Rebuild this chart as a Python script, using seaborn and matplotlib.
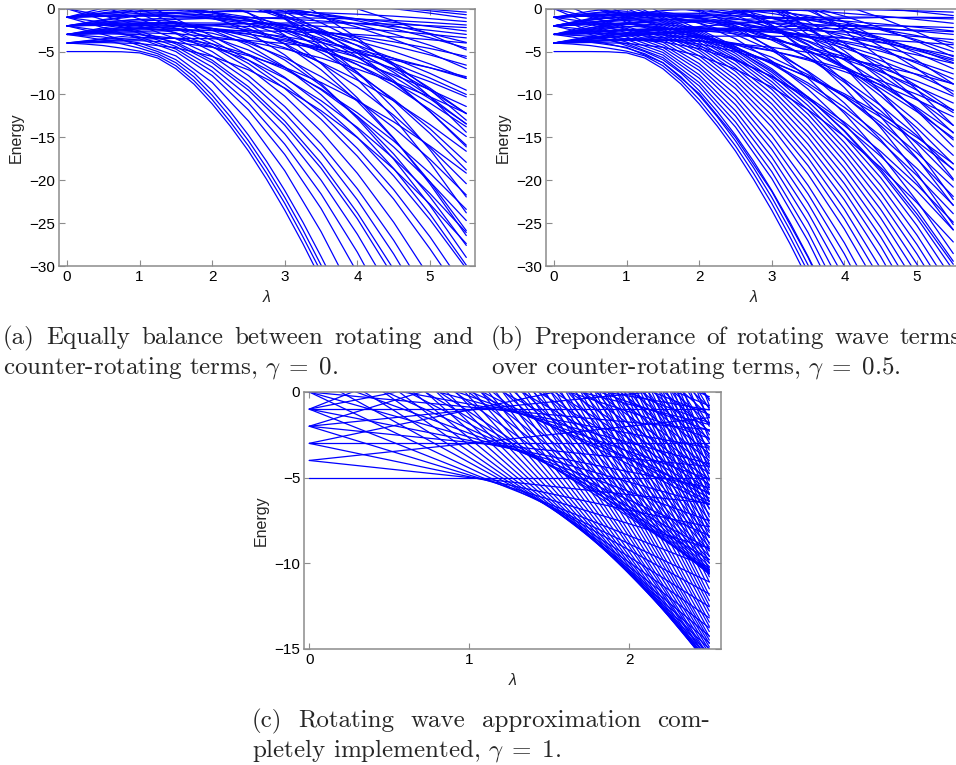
import numpy as np
import pandas as pd
import matplotlib.pyplot as plt
import seaborn as sns

sns.set_theme(style="white")
plt.rcParams["font.family"] = ["Liberation Sans", "DejaVu Sans"]
plt.rcParams["mathtext.fontset"] = "cm"

# lambda grids for panels (a) and (b)
lam_ab = [0, 0.5, 1.0, 1.5, 2.0, 2.5, 3.0, 3.5, 4.0, 4.5, 5.0, 5.5]
lam_fine = [0, 0.25, 0.5, 0.75, 1.0, 1.25, 1.5, 1.75, 2.0, 2.25, 2.5, 2.75, 3.0, 3.25, 3.5, 3.75]

# lowest levels, read on the fine grid (same in (a) and (b))
low_levels = [
    [-5, -5, -5, -5.02, -5.15, -5.75, -7.0, -8.8, -11.1, -13.7, -16.6, -19.9, -23.5, -27.4, -31.6],
    [-4, -4.12, -4.3, -4.6, -4.95, -5.5, -6.65, -8.4, -10.6, -13.2, -16.0, -19.2, -22.7, -26.6, -30.7],
    [-3, -3.3, -3.65, -4.1, -4.6, -5.25, -6.3, -7.95, -10.1, -12.6, -15.4, -18.55, -22.0, -25.8, -29.9, -34.2],
    [-2, -2.5, -3.0, -3.6, -4.3, -5.0, -5.95, -7.5, -9.55, -12.0, -14.75, -17.8, -21.2, -24.9, -28.9, -33.1],
]

# panel (a), gamma = 0 : energies along lam_ab (curves leaving the frame stop early)
a_steep = [
    [-3, -3.3, -4.0, -5.5, -8.6, -13.1, -18.9, -26.0, -34.2],
    [-1, -2.2, -3.5, -5.0, -7.8, -11.8, -17.0, -23.3, -30.8],
    [-2, -2.6, -3.3, -4.7, -7.3, -11.0, -15.8, -21.6, -28.4, -36.2],
    [0, -1.3, -2.9, -4.4, -6.8, -10.2, -14.6, -20.0, -26.3, -33.5],
    [-1, -1.6, -2.6, -4.1, -6.3, -9.5, -13.6, -18.6, -24.5, -31.3],
    [-4, -3.5, -3.0, -3.9, -6.0, -9.1, -13.1, -18.0, -23.8, -30.4],
    [0, -0.8, -2.0, -3.5, -5.5, -8.4, -12.2, -16.8, -22.3, -28.6, -35.7],
    [1, 0.2, -1.2, -2.9, -5.0, -7.8, -11.4, -15.8, -21.0, -27.0, -33.8],
    [-3, -2.4, -2.1, -2.8, -4.4, -6.9, -10.2, -14.3, -19.2, -24.9, -31.4],
    [2, 1.0, -0.6, -2.3, -4.1, -6.4, -9.3, -12.9, -17.2, -22.2, -28.0, -34.2],
    [3, 1.8, 0.0, -1.8, -3.7, -6.0, -8.8, -12.2, -16.3, -21.1, -26.6, -32.8],
    [4, 2.8, 0.8, -1.2, -3.2, -5.4, -8.0, -11.2, -15.0, -19.5, -24.6, -30.3],
    [-2, -1.52, -1.25, -1.51, -2.5, -4.26, -6.79, -10.04, -14.0, -18.64, -23.94, -29.9],
    [0, 0.39, 0.55, 0.19, -0.9, -2.76, -5.39, -8.74, -12.8, -17.54, -22.94, -29.0],
    [-3, -2.22, -1.65, -1.61, -2.3, -3.76, -5.99, -8.94, -12.6, -16.94, -21.94, -27.6],
    [2, 2.43, 2.65, 2.34, 1.3, -0.51, -3.09, -6.39, -10.4, -15.09, -20.44, -26.45],
    [-1, -0.24, 0.3, 0.32, -0.4, -1.89, -4.14, -7.12, -10.8, -15.16, -20.19, -25.88],
    [3, 3.58, 3.95, 3.79, 2.9, 1.24, -1.19, -4.34, -8.2, -12.74, -17.94, -23.8],
    [1, 1.93, 2.65, 2.84, 2.3, 0.99, -1.09, -3.89, -7.4, -11.59, -16.44, -21.95],
]
a_middle = [
    [-4, -3.95, -4.06, -4.55, -5.56, -7.13, -9.25, -11.89, -15.04, -18.68, -22.8, -27.39],
    [-3, -2.93, -3.01, -3.47, -4.46, -6.0, -8.1, -10.72, -13.84, -17.46, -21.55, -26.1],
    [-2, -1.89, -1.94, -2.36, -3.31, -4.82, -6.87, -9.45, -12.54, -16.12, -20.18, -24.7],
    [-4, -3.59, -3.34, -3.46, -4.11, -5.32, -7.07, -9.35, -12.14, -15.42, -19.18, -23.4],
    [-3, -2.53, -2.21, -2.28, -2.86, -4.0, -5.7, -7.92, -10.64, -13.86, -17.55, -21.72],
    [-1, -0.59, -0.34, -0.46, -1.11, -2.32, -4.07, -6.35, -9.14, -12.42, -16.18, -20.4],
    [1, 1.38, 1.59, 1.43, 0.75, -0.5, -2.29, -4.6, -7.43, -10.74, -14.54, -18.8],
    [-2, -1.27, -0.7, -0.51, -0.84, -1.73, -3.17, -5.13, -7.6, -10.56, -14.0, -17.91],
    [2, 2.53, 2.9, 2.89, 2.36, 1.27, -0.37, -2.53, -5.2, -8.36, -12.0, -16.11],
    [0, 0.73, 1.3, 1.49, 1.16, 0.27, -1.17, -3.13, -5.6, -8.56, -12.0, -15.91],
    [4, 4.5, 4.85, 4.81, 4.25, 3.14, 1.47, -0.72, -3.41, -6.6, -10.27, -14.4],
    [-1, 0.08, 1.01, 1.56, 1.58, 1.05, -0.04, -1.64, -3.76, -6.37, -9.45, -13.0],
    [-4, -3.81, -3.73, -3.93, -4.5, -5.48, -6.85, -8.6, -10.72, -13.19, -16.01, -19.17],
    [-2, -1.76, -1.63, -1.78, -2.3, -3.23, -4.55, -6.25, -8.32, -10.74, -13.51, -16.62],
    [-1, -0.56, -0.23, -0.18, -0.5, -1.23, -2.35, -3.85, -5.72, -7.94, -10.51, -13.42],
    [0, 0.22, 0.32, 0.15, -0.4, -1.36, -2.7, -4.43, -6.52, -8.97, -11.76, -14.9],
    [1, 1.365, 1.62, 1.6, 1.2, 0.4, -0.8, -2.38, -4.32, -6.62, -9.26, -12.25],
    [-3, -2.41, -1.93, -1.73, -1.9, -2.48, -3.45, -4.8, -6.52, -8.59, -11.01, -13.77],
    [2, 2.165, 2.22, 1.995, 1.4, 0.395, -0.9, -2.775, -4.92, -7.415, -10.26, -13.445],
    [-2, -1.36, -0.83, -0.58, -0.7, -1.23, -2.15, -3.45, -5.12, -7.14, -9.51, -12.22],
]
a_upper = [
    [-3, -2.87, -2.81, -2.92, -3.26, -3.85, -4.68, -5.75, -7.04, -8.55, -10.27, -12.2],
    [-2, -1.89, -1.85, -1.97, -2.33, -2.93, -3.79, -4.87, -6.18, -7.7, -9.45, -11.4],
    [-3, -2.7, -2.46, -2.39, -2.56, -2.97, -3.63, -4.52, -5.64, -6.97, -8.52, -10.28],
    [-1, -0.85, -0.77, -0.86, -1.19, -1.75, -2.57, -3.62, -4.89, -6.38, -8.09, -10.0],
    [0, 0.1, 0.14, 0.0, -0.37, -0.98, -1.84, -2.93, -4.26, -5.79, -7.54, -9.5],
    [-2, -1.59, -1.25, -1.07, -1.13, -1.43, -1.99, -2.77, -3.78, -5.0, -6.45, -8.1],
    [1, 1.24, 1.41, 1.41, 1.18, 0.7, -0.02, -0.98, -2.16, -3.56, -5.17, -6.99],
    [-1, -0.47, -0.01, 0.28, 0.34, 0.15, -0.28, -0.95, -1.84, -2.95, -4.27, -5.8],
    [3, 3.26, 3.45, 3.47, 3.25, 2.79, 2.08, 1.15, -0.02, -1.4, -3.0, -4.8],
    [-3, -2.79, -2.64, -2.55, -2.52, -2.56, -2.65, -2.8, -3.01, -3.28, -3.61, -4.0],
    [-2, -1.83, -1.72, -1.66, -1.67, -1.74, -1.87, -2.05, -2.3, -2.61, -2.98, -3.4],
    [-1, -0.88, -0.82, -0.83, -0.89, -1.01, -1.19, -1.43, -1.74, -2.1, -2.52, -3.0],
    [0, 0.06, 0.07, 0.01, -0.11, -0.28, -0.52, -0.82, -1.17, -1.59, -2.07, -2.6],
    [-3, -2.63, -2.32, -2.06, -1.87, -1.74, -1.67, -1.65, -1.7, -1.81, -1.98, -2.2],
    [-2, -1.69, -1.44, -1.25, -1.12, -1.06, -1.05, -1.1, -1.21, -1.38, -1.61, -1.9],
    [-1, -0.75, -0.55, -0.42, -0.34, -0.33, -0.37, -0.48, -0.64, -0.87, -1.16, -1.5],
    [2, 2.02, 1.98, 1.87, 1.71, 1.49, 1.21, 0.87, 0.46, 0.0, -0.52, -1.1],
    [1, 1.15, 1.23, 1.26, 1.22, 1.13, 0.97, 0.76, 0.48, 0.15, -0.25, -0.7],
    [0, 0.26, 0.47, 0.61, 0.69, 0.72, 0.68, 0.58, 0.43, 0.21, -0.07, -0.4],
    [-4, -3.75, -3.55, -3.45, -3.5, -3.7, -4.06, -4.56, -5.2, -5.98, -6.89, -7.93],
    [-1, -0.9, -0.85, -0.9, -1.1, -1.45, -1.96, -2.61, -3.4, -4.33, -5.39, -6.58],
    [0, 0.25, 0.45, 0.55, 0.5, 0.3, -0.06, -0.56, -1.2, -1.98, -2.89, -3.93],
    [-2, -1.95, -1.95, -2.05, -2.3, -2.7, -3.26, -3.96, -4.8, -5.78, -6.89, -8.13],
    [1, 1.1, 1.15, 1.1, 0.9, 0.55, 0.04, -0.61, -1.4, -2.33, -3.39, -4.58],
    [-3, -2.63, -2.3, -2.08, -2.0, -2.07, -2.31, -2.69, -3.2, -3.86, -4.64, -5.56],
]

# panel (b), gamma = 0.5
b_steep = [
    [-4, -3.9, -4.5, -6.3, -9.9, -15.0, -21.3, -29.0, -38.0],
    [-3, -3.2, -4.1, -5.7, -9.0, -13.8, -19.8, -27.1, -35.7],
    [-1, -2.6, -3.9, -5.4, -8.6, -13.2, -19.0, -26.1, -34.4],
    [-2, -2.5, -3.6, -5.1, -8.1, -12.5, -18.1, -24.9, -32.9],
    [0, -1.8, -3.3, -4.8, -7.7, -11.9, -17.3, -23.8, -31.4],
    [-3, -2.4, -3.0, -4.5, -7.2, -11.2, -16.4, -22.7, -30.0, -38.4],
    [-1, -1.6, -2.8, -4.2, -6.8, -10.6, -15.6, -21.6, -28.6, -36.7],
    [1, -0.8, -2.5, -3.9, -6.4, -10.0, -14.8, -20.6, -27.3, -35.0],
    [-2, -1.8, -2.3, -3.6, -5.9, -9.3, -13.8, -19.3, -25.7, -33.0],
    [0, -1.0, -2.1, -3.3, -5.5, -8.8, -13.1, -18.3, -24.5, -31.6],
    [-4, -3.2, -2.4, -3.0, -5.1, -8.3, -12.4, -17.4, -23.4, -30.3],
    [2, 0.4, -1.6, -2.8, -4.8, -7.8, -11.7, -16.6, -22.3, -28.9, -36.4],
    [-1, -0.8, -1.4, -2.6, -4.5, -7.3, -11.1, -15.8, -21.3, -27.7, -35.0],
    [-3, -2.2, -1.7, -2.4, -4.2, -6.9, -10.5, -15.0, -20.4, -26.6, -33.6],
    [3, 1.4, -0.8, -2.2, -3.9, -6.5, -9.9, -14.3, -19.5, -25.5, -32.3],
    [1, 0.3, -0.9, -2.0, -3.6, -6.1, -9.4, -13.6, -18.6, -24.4, -31.0],
    [-2, -1.2, -1.0, -1.8, -3.4, -5.8, -8.9, -12.9, -17.8, -23.4, -29.8, -36.9],
    [4, 2.4, 0.0, -1.6, -3.2, -5.5, -8.5, -12.3, -17.0, -22.4, -28.6, -35.5],
    [0, 0.1, -0.6, -1.4, -3.0, -5.2, -8.1, -11.8, -16.3, -21.5, -27.5, -34.2],
    [5, 3.3, 0.8, -1.2, -2.8, -4.9, -7.7, -11.3, -15.6, -20.6, -26.4, -33.0],
    [2, 1.2, 0.2, -1.0, -2.6, -4.7, -7.4, -10.8, -14.9, -19.7, -25.3, -31.7],
    [6, 4.2, 1.6, -0.6, -2.4, -4.4, -7.0, -10.3, -14.3, -19.0, -24.4, -30.5],
    [-3, -2.42, -2.05, -2.21, -3.1, -4.76, -7.19, -10.34, -14.2, -18.74, -23.94, -29.8],
    [-1, -0.57, -0.35, -0.66, -1.7, -3.51, -6.09, -9.39, -13.4, -18.09, -23.44, -29.45],
    [1, 1.33, 1.45, 1.04, -0.1, -2.01, -4.69, -8.09, -12.2, -16.99, -22.44, -28.55],
    [-2, -1.14, -0.5, -0.39, -1.0, -2.385, -4.54, -7.415, -11.0, -15.265, -20.19, -25.775],
    [3, 3.455, 3.7, 3.415, 2.4, 0.615, -1.94, -5.215, -9.2, -13.865, -19.19, -25.175],
    [0, 0.93, 1.65, 1.84, 1.3, -0.01, -2.09, -4.89, -8.4, -12.59, -17.44, -22.95],
    [4, 4.63, 5.05, 4.94, 4.1, 2.49, 0.11, -3.04, -6.8, -11.29, -16.44, -22.25],
    [2, 3.03, 3.85, 4.14, 3.7, 2.49, 0.51, -2.19, -5.6, -9.69, -14.44, -19.85],
]
b_middle = [
    [-4, -3.94, -4.03, -4.5, -5.49, -7.04, -9.15, -11.77, -14.9, -18.52, -22.63, -27.2],
    [-3, -2.9, -2.95, -3.39, -4.35, -5.86, -7.93, -10.52, -13.61, -17.2, -21.27, -25.8],
    [-4, -3.73, -3.61, -3.87, -4.65, -6.0, -7.89, -10.3, -13.23, -16.64, -20.54, -24.9],
    [-2, -1.82, -1.79, -2.15, -3.02, -4.46, -6.44, -8.95, -11.96, -15.47, -19.45, -23.9],
    [-3, -2.64, -2.43, -2.6, -3.29, -4.54, -6.35, -8.67, -11.5, -14.82, -18.63, -22.9],
    [-1, -0.73, -0.61, -0.87, -1.65, -3.0, -4.89, -7.3, -10.23, -13.64, -17.54, -21.9],
    [-4, -3.35, -2.86, -2.75, -3.16, -4.14, -5.66, -7.7, -10.25, -13.29, -16.81, -20.8],
    [0, 0.36, 0.56, 0.37, -0.33, -1.59, -3.4, -5.73, -8.58, -11.91, -15.72, -20.0],
    [-2, -1.35, -0.86, -0.75, -1.16, -2.14, -3.66, -5.7, -8.25, -11.29, -14.81, -18.8],
    [1, 1.44, 1.72, 1.62, 1.0, -0.18, -1.91, -4.16, -6.92, -10.17, -13.9, -18.1],
    [-1, -0.29, 0.27, 0.44, 0.09, -0.82, -2.28, -4.25, -6.74, -9.72, -13.18, -17.1],
    [3, 3.44, 3.72, 3.62, 3.0, 1.82, 0.09, -2.16, -4.92, -8.17, -11.9, -16.1],
    [-3, -1.95, -1.04, -0.53, -0.53, -1.09, -2.2, -3.83, -5.98, -8.61, -11.72, -15.3],
    [2, 2.67, 3.19, 3.33, 2.95, 2.0, 0.51, -1.5, -4.03, -7.04, -10.54, -14.5],
    [5, 5.48, 5.81, 5.76, 5.18, 4.05, 2.36, 0.16, -2.56, -5.76, -9.45, -13.6],
    [-4, -3.71, -3.53, -3.63, -4.1, -4.98, -6.25, -7.9, -9.92, -12.29, -15.01, -18.07],
    [-3, -2.86, -2.83, -3.08, -3.7, -4.73, -6.15, -8.0, -10.12, -12.64, -15.51, -18.72],
    [-1, -0.71, -0.53, -0.63, -1.1, -1.98, -3.25, -4.9, -6.92, -9.29, -12.01, -15.07],
    [0, 0.49, 0.87, 0.97, 0.7, 0.02, -1.05, -2.5, -4.32, -6.49, -9.01, -11.87],
    [-2, -1.56, -1.23, -1.18, -1.5, -2.23, -3.35, -4.85, -6.72, -8.94, -11.51, -14.42],
    [1, 1.24, 1.37, 1.22, 0.7, -0.23, -1.55, -3.25, -5.32, -7.74, -10.51, -13.62],
    [3, 3.39, 3.67, 3.67, 3.3, 2.52, 1.35, -0.2, -2.12, -4.39, -7.01, -9.97],
    [-3, -2.26, -1.63, -1.28, -1.3, -1.73, -2.55, -3.75, -5.32, -7.24, -9.51, -12.12],
    [2, 2.59, 3.07, 3.27, 3.1, 2.52, 1.55, 0.2, -1.52, -3.59, -6.01, -8.77],
]
b_upper = [
    [-3, -2.91, -2.88, -3.02, -3.4, -4.03, -4.9, -6.0, -7.33, -8.87, -10.63, -12.6],
    [-4, -3.74, -3.56, -3.53, -3.75, -4.21, -4.92, -5.85, -7.02, -8.4, -9.99, -11.8],
    [-2, -1.85, -1.77, -1.86, -2.19, -2.75, -3.57, -4.62, -5.89, -7.38, -9.09, -11.0],
    [-3, -2.69, -2.45, -2.37, -2.53, -2.93, -3.59, -4.47, -5.58, -6.9, -8.45, -10.2],
    [-1, -0.82, -0.7, -0.75, -1.04, -1.57, -2.35, -3.36, -4.6, -6.05, -7.72, -9.6],
    [-2, -1.65, -1.37, -1.26, -1.39, -1.75, -2.37, -3.22, -4.29, -5.58, -7.09, -8.8],
    [0, 0.22, 0.37, 0.36, 0.11, -0.39, -1.13, -2.1, -3.31, -4.72, -6.36, -8.2],
    [-4, -3.36, -2.79, -2.39, -2.22, -2.3, -2.62, -3.18, -3.96, -4.96, -6.18, -7.6],
    [1, 1.24, 1.41, 1.41, 1.18, 0.7, -0.02, -0.98, -2.16, -3.56, -5.18, -7.0],
    [-1, -0.52, -0.1, 0.15, 0.16, -0.07, -0.55, -1.26, -2.2, -3.35, -4.72, -6.3],
    [2, 2.28, 2.48, 2.52, 2.32, 1.89, 1.2, 0.28, -0.87, -2.23, -3.81, -5.6],
    [-2, -1.31, -0.68, -0.22, 0.0, -0.03, -0.3, -0.8, -1.53, -2.47, -3.63, -5.0],
    [4, 4.18, 4.3, 4.25, 3.96, 3.43, 2.65, 1.64, 0.4, -1.05, -2.72, -4.6],
    [-4, -3.72, -3.5, -3.34, -3.23, -3.19, -3.21, -3.29, -3.43, -3.63, -3.89, -4.2],
    [-3, -2.75, -2.57, -2.44, -2.38, -2.37, -2.43, -2.54, -2.72, -2.95, -3.25, -3.6],
    [-2, -1.79, -1.64, -1.55, -1.52, -1.56, -1.65, -1.8, -2.01, -2.28, -2.61, -3.0],
    [-1, -0.85, -0.75, -0.72, -0.74, -0.83, -0.97, -1.18, -1.44, -1.77, -2.16, -2.6],
    [-4, -3.54, -3.13, -2.79, -2.51, -2.28, -2.12, -2.02, -1.97, -1.99, -2.07, -2.2],
    [0, 0.15, 0.23, 0.26, 0.22, 0.13, -0.03, -0.24, -0.52, -0.85, -1.25, -1.7],
    [-3, -2.54, -2.13, -1.79, -1.51, -1.28, -1.12, -1.02, -0.97, -0.99, -1.07, -1.2],
    [1, 1.14, 1.21, 1.23, 1.19, 1.08, 0.92, 0.7, 0.41, 0.07, -0.34, -0.8],
    [-2, -1.55, -1.17, -0.84, -0.58, -0.37, -0.23, -0.14, -0.12, -0.15, -0.25, -0.4],
    [-4, -3.83, -3.7, -3.68, -3.8, -4.08, -4.51, -5.09, -5.8, -6.66, -7.64, -8.76],
    [-3, -2.7, -2.45, -2.3, -2.3, -2.45, -2.76, -3.21, -3.8, -4.53, -5.39, -6.38],
    [-2, -1.58, -1.2, -0.93, -0.8, -0.83, -1.01, -1.34, -1.8, -2.41, -3.14, -4.01],
    [-1, -0.85, -0.75, -0.75, -0.9, -1.2, -1.66, -2.26, -3.0, -3.88, -4.89, -6.03],
    [0, 0.07, 0.1, 0.03, -0.2, -0.58, -1.11, -1.79, -2.6, -3.56, -4.64, -5.86],
    [-4, -3.53, -3.1, -2.78, -2.6, -2.58, -2.71, -2.99, -3.4, -3.96, -4.64, -5.46],
    [-4, -3.43, -2.92, -2.47, -2.08, -1.75, -1.48, -1.27, -1.12, -1.03, -1.0, -1.03],
    [-3, -2.38, -1.82, -1.32, -0.88, -0.5, -0.18, 0.08, 0.28, 0.42, 0.5, 0.52],
    [-4, -3.58, -3.22, -2.92, -2.68, -2.5, -2.38, -2.32, -2.32, -2.38, -2.5, -2.68],
]

# panel (c), gamma = 1 : straight levels, energy at lambda = 0 and at lambda = 2.5
lam_c = [0, 2.5]
c_start = [
    -5, -4, -4, -3, -3, -3, -2, -2, -2, -2, -1, -1, -1, -1, -1,
    0, 0, 0, 1, 1, 1, 2, 2, 2, 3, 3, 3, 3, 4, 4, 4, 4,
    5, 5, 5, 5, 6, 6, 6, 6, 7, 7, 7, 7, 8, 8, 8, 8, 9, 9, 9, 9, 10, 10, 10, 10,
    11, 11, 11, 12, 12, 12, 13, 13, 13, 14, 14, 14, 15, 15, 15, 16, 16, 16,
    17, 17, 17, 18, 18, 18, 19, 19, 19, 20, 20, 20, 21, 21, 21, 22, 22, 22,
    23, 23, 24, 24, 25, 25, 26, 26, 27, 27, 28, 28, 29, 29, 30, 30, 31, 31,
    32, 32, 33, 33, 34, 34, 35, 35, 36, 36, 37, 37, 38, 38, 39, 39,
    40, 41, 42, 43, 44, 45, 46, 47, 48, 49, 50, 51, 52, 53, 54, 55, 57, 59, 61,
]
c_end = [
    -5, -6.5, -1.5, -7.88, -3, 1.88, -9.13, -4.35, 0.35, 5.13, -10.25, -5.58, -1, 3.58, 8.25,
    -11.1, -6.58, -2.2, -11.8, -7.53, -3.27, -12.55, -8.4, -4.2, -13.2, -9.15, -5.1, -1.05, -13.78, -9.8, -5.9, -1.9,
    -14.25, -10.4, -6.55, -2.7, -14.65, -10.5, -6.4, -2.26, -15.0, -10.6, -6.2, -1.8, -15.3, -10.64, -5.98, -1.32,
    -15.53, -10.62, -5.7, -0.81, -15.7, -10.56, -5.4, -0.28,
    -15.83, -10.46, -5.1, -15.95, -10.36, -4.77, -16.0, -10.2, -4.4, -16.03, -10.0, -4.0, -16.03, -9.8, -3.6, -16.0, -9.6, -3.2,
    -15.93, -9.3, -2.76, -15.8, -9.06, -2.3, -15.75, -8.8, -1.85, -15.6, -8.5, -1.4, -15.5, -8.2, -0.9, -15.3, -7.86, -0.4,
    -15.1, -7.5, -14.9, -7.14, -14.7, -6.78, -14.5, -6.4, -14.3, -6.0, -14.0, -5.6, -13.7, -5.2, -13.45, -4.76, -13.1, -4.3,
    -12.8, -3.86, -12.5, -3.4, -12.2, -2.96, -11.9, -2.5, -11.5, -2.0, -11.1, -1.5, -10.8, -1.0, -10.4, -0.5,
    -10.0, -9.6, -9.25, -8.9, -8.5, -8.1, -7.7, -7.3, -6.85, -6.4, -5.95, -5.5, -5.05, -4.6, -4.2, -3.75, -2.8, -1.8, -0.8,
]

BLUE = "#0000ff"
FRAME = "#8c8c8c"
W, H = 956, 765


def curves_frame(lam, curves, start=0):
    rows = []
    for k, curve in enumerate(curves):
        for x, y in zip(lam, curve):
            rows.append((start + k, x, y))
    return pd.DataFrame(rows, columns=["curve", "lam", "energy"])


def px_axes(left, top, right, bottom):
    return fig.add_axes([left / W, 1 - bottom / H, (right - left) / W, (bottom - top) / H])


def style(ax, xlim, ylim, xticks, yticks):
    ax.set_xlim(xlim)
    ax.set_ylim(ylim)
    ax.set_xticks(xticks)
    ax.set_yticks(yticks)
    ax.tick_params(direction="in", length=4, width=0.8, colors=FRAME,
                   labelcolor="black", labelsize=11, pad=3,
                   bottom=True, left=True, top=True, right=True)
    for s in ax.spines.values():
        s.set_color(FRAME)
        s.set_linewidth(1.1)
    ax.set_xlabel("λ", fontsize=11.5, style="italic")
    ax.set_ylabel("Energy", fontsize=11.5)


fig = plt.figure(figsize=(W / 100, H / 100), dpi=100)

ax_a = px_axes(59, 8.7, 475, 266)
ax_b = px_axes(546, 8.7, 962, 266)
ax_c = px_axes(304.3, 392, 720.7, 648.7)

df_a = pd.concat([curves_frame(lam_fine, low_levels),
                  curves_frame(lam_ab, a_steep + a_middle + a_upper, start=100)])
df_b = pd.concat([curves_frame(lam_fine, low_levels),
                  curves_frame(lam_ab, b_steep + b_middle + b_upper, start=100)])
df_c = curves_frame(lam_c, [[s, e] for s, e in zip(c_start, c_end)])

for ax, df in [(ax_a, df_a), (ax_b, df_b), (ax_c, df_c)]:
    sns.lineplot(data=df, x="lam", y="energy", units="curve", estimator=None,
                 sort=False, color=BLUE, linewidth=0.9, legend=False, ax=ax)

style(ax_a, (-0.11, 5.62), (-30, 0), range(0, 6), range(-30, 1, 5))
style(ax_b, (-0.11, 5.62), (-30, 0), range(0, 6), range(-30, 1, 5))
style(ax_c, (-0.031, 2.571), (-15, 0), range(0, 3), range(-15, 1, 5))
for ax in (ax_a, ax_b, ax_c):
    ax.yaxis.set_label_coords(-0.085, 0.5)
    ax.xaxis.set_label_coords(0.5, -0.095)


# captions (serif, justified first lines)
def caption_line(text, x0, y, x1=None, size=18):
    if x1 is None:
        fig.text(x0 / W, 1 - y / H, text, fontsize=size, family="cmr10", va="baseline")
        return
    words = text.split(" ")
    items = [fig.text(0, 1 - y / H, w, fontsize=size, family="cmr10", va="baseline") for w in words]
    fig.canvas.draw()
    r = fig.canvas.get_renderer()
    widths = [t.get_window_extent(r).width for t in items]
    gap = (x1 - x0 - sum(widths)) / (len(words) - 1)
    x = x0
    for t, w in zip(items, widths):
        t.set_x(x / W)
        x += w + gap


caption_line("(a) Equally balance between rotating and", 3, 344, 473)
caption_line(r"counter-rotating terms, $\gamma\;=\;0$.", 3, 373)
caption_line("(b) Preponderance of rotating wave terms", 491, 344, 961)
caption_line(r"over counter-rotating terms, $\gamma\;=\;0.5$.", 491, 373)
caption_line("(c) Rotating wave approximation com-", 252, 727, 710)
caption_line(r"pletely implemented, $\gamma\;=\;1$.", 252, 756)

fig.savefig("out.png", dpi=100)
